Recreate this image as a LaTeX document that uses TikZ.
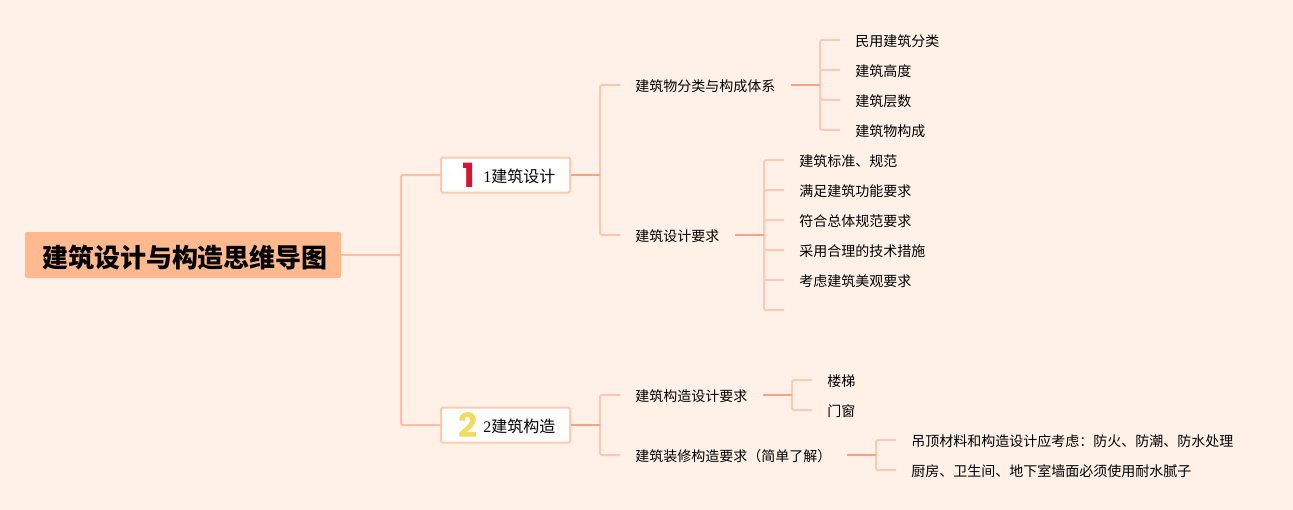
\documentclass[tikz,border=0pt]{standalone}
\usepackage{fontspec}
\usepackage{xcolor}
\setmainfont{Liberation Serif}
\newfontfamily\cjk{Noto Sans CJK SC}
\newfontfamily\badgefont{Poppins}
\definecolor{pagebg}{HTML}{FFF1E7}
\definecolor{rootfill}{HTML}{FFB98F}
\definecolor{topicline}{HTML}{FFCBAE}
\definecolor{trunkline}{HTML}{FFBFA6}
\definecolor{branchline}{HTML}{FCC8B2}
\definecolor{stubline}{HTML}{FBA185}
\definecolor{leafline}{HTML}{F9CBB8}
\definecolor{redbadge}{HTML}{D9142F}
\definecolor{yellowbadge}{HTML}{F2DC5D}

\begin{document}
\begin{tikzpicture}[x=.75pt,y=-.75pt]
	    \tikzstyle{root}=[fill=rootfill, rounded corners=1.5pt, minimum width=237pt, minimum height=34.5pt, inner sep=0pt, text height=18pt, text depth=0pt, font=\cjk\bfseries\fontsize{19.5}{22}\selectfont]
	    \tikzstyle{topic}=[draw=topicline, line width=1.5pt, fill=white, rounded corners=1pt, minimum width=96.75pt, minimum height=26.25pt, inner sep=0pt]
	    \tikzstyle{sub}=[anchor=west, inner xsep=11.25pt, inner ysep=0pt, text height=10.4pt, text depth=0pt, font=\cjk\fontsize{10.5}{12}\selectfont]
	    \tikzstyle{leaf}=[sub]
	    \tikzstyle{badge}=[inner sep=0pt, font=\badgefont\bfseries\fontsize{25}{25}\selectfont]
	    \tikzstyle{trunk}=[draw=trunkline, line width=1.5pt, rounded corners=1.5pt]
	    \tikzstyle{branch}=[draw=branchline, line width=1.5pt, rounded corners=1.5pt]
	    \tikzstyle{stub}=[draw=stubline, line width=1.5pt]
	    \tikzstyle{twig}=[draw=leafline, line width=1.5pt, rounded corners=1.5pt]
	    \fill[pagebg, use as bounding box] (0,0) rectangle (1293,510);
	    \node[root] (root) at (183,255) {\hspace{3pt}建筑设计与构造思维导图};
	    \node[topic] (topic1) at (505.5,175) {};
	    \node[topic] (topic2) at (505.5,425) {};
	    \node[badge, text=redbadge] (badge1) at (469,175) {1};
	    \node[badge, text=yellowbadge] (badge2) at (468.5,425.5) {2};
	    \node[anchor=west, inner sep=0pt, font=\fontsize{12}{14}\selectfont] (label1) at (483,176) {1{\cjk 建筑设计}};
	    \node[anchor=west, inner sep=0pt, font=\fontsize{12}{14}\selectfont] (label2) at (483,426) {2{\cjk 建筑构造}};
	    \node[sub] (sub1) at (620,85) {建筑物分类与构成体系};
	    \node[sub] (sub2) at (620,235) {建筑设计要求};
	    \node[sub] (sub3) at (620,395) {建筑构造设计要求};
	    \node[sub] (sub4) at (620,455) {建筑装修构造要求（简单了解）};
	    \node[leaf] (leaf1) at (840,40) {民用建筑分类};
	    \node[leaf] (leaf2) at (840,70) {建筑高度};
	    \node[leaf] (leaf3) at (840,100) {建筑层数};
	    \node[leaf] (leaf4) at (840,130) {建筑物构成};
	    \node[leaf] (leaf5) at (784,160) {建筑标准、规范};
	    \node[leaf] (leaf6) at (784,190) {满足建筑功能要求};
	    \node[leaf] (leaf7) at (784,220) {符合总体规范要求};
	    \node[leaf] (leaf8) at (784,250) {采用合理的技术措施};
	    \node[leaf] (leaf9) at (784,280) {考虑建筑美观要求};
	    \coordinate (leaf10) at (784,310);
	    \node[leaf] (leaf11) at (812,380) {楼梯};
	    \node[leaf] (leaf12) at (812,410) {门窗};
	    \node[leaf] (leaf13) at (896,440) {吊顶材料和构造设计应考虑：防火、防潮、防水处理};
	    \node[leaf] (leaf14) at (896,470) {厨房、卫生间、地下室墙面必须使用耐水腻子};
	    \coordinate (trunk1) at (401,255);
	    \coordinate (bus1) at (600,175);
	    \coordinate (bus2) at (600,425);
	    \coordinate (bus3) at (820,85);
	    \coordinate (bus4) at (764,235);
	    \coordinate (bus5) at (792,395);
	    \coordinate (bus6) at (876,455);
	    \draw[trunk] (trunk1) |- (topic1.west);
	    \draw[trunk] (trunk1) |- (topic2.west);
	    \draw[trunk] (root.east) -- (trunk1);
	    \draw[branch] (bus1) |- (sub1.west);
	    \draw[branch] (bus1) |- (sub2.west);
	    \draw[branch] (bus2) |- (sub3.west);
	    \draw[branch] (bus2) |- (sub4.west);
	    \draw[twig] (bus3) |- (leaf1.west);
	    \draw[twig] (bus3) |- (leaf2.west);
	    \draw[twig] (bus3) |- (leaf3.west);
	    \draw[twig] (bus3) |- (leaf4.west);
	    \draw[twig] (bus4) |- (leaf5.west);
	    \draw[twig] (bus4) |- (leaf6.west);
	    \draw[twig] (bus4) |- (leaf7.west);
	    \draw[twig] (bus4) |- (leaf8.west);
	    \draw[twig] (bus4) |- (leaf9.west);
	    \draw[twig] (bus4) |- (leaf10);
	    \draw[twig] (bus5) |- (leaf11.west);
	    \draw[twig] (bus5) |- (leaf12.west);
	    \draw[twig] (bus6) |- (leaf13.west);
	    \draw[twig] (bus6) |- (leaf14.west);
	    \draw[stub] (topic1.east) -- (bus1);
	    \draw[stub] (topic2.east) -- (bus2);
	    \draw[stub] (sub1.east) -- (bus3);
	    \draw[stub] (sub2.east) -- (bus4);
	    \draw[stub] (sub3.east) -- (bus5);
	    \draw[stub] (sub4.east) -- (bus6);
	\end{tikzpicture}
\end{document}
